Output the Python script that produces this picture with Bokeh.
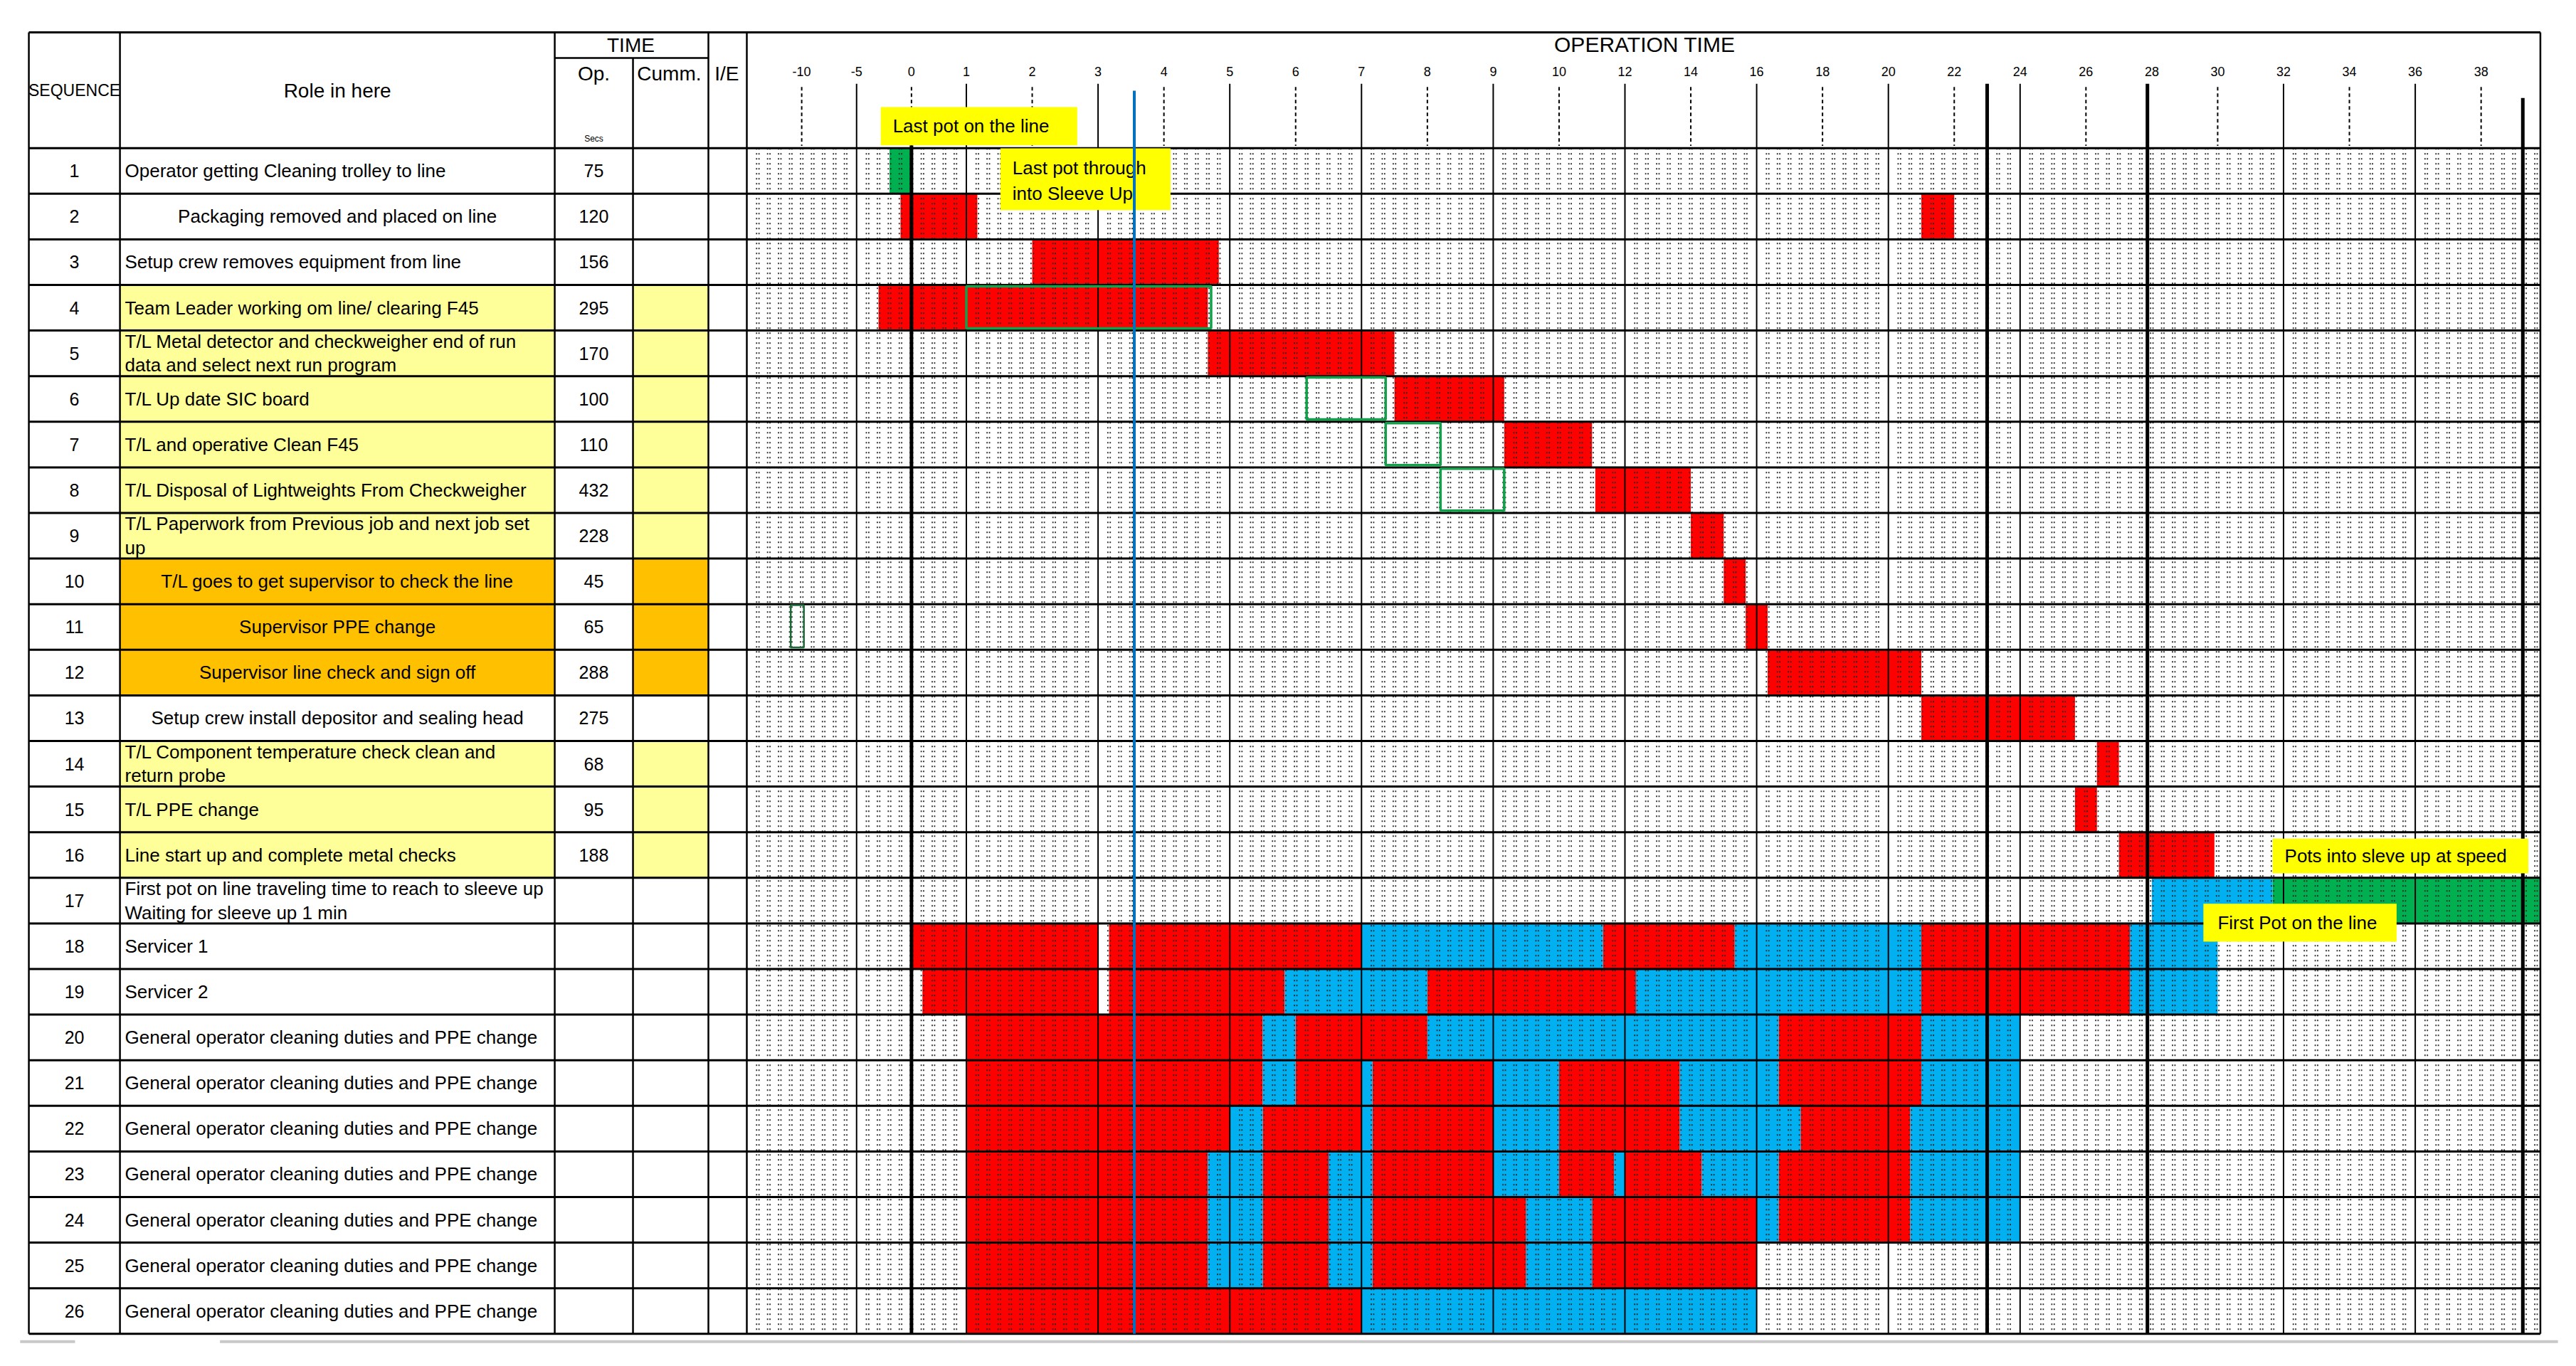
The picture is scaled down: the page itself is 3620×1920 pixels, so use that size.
from bokeh.plotting import figure
from bokeh.models import Range1d
from bokeh.core.properties import value
from bokeh.embed import file_html
from bokeh.resources import INLINE

# ---------------- data ----------------
SEQ = [str(i) for i in range(1, 27)]
ROLES = [
    "Operator getting Cleaning trolley to line",
    "Packaging removed and placed on line",
    "Setup crew removes equipment from line",
    "Team Leader working om line/ clearing F45",
    "T/L Metal detector and checkweigher end of run\ndata and select next run program",
    "T/L Up date SIC board",
    "T/L and operative Clean F45",
    "T/L Disposal of Lightweights From Checkweigher",
    "T/L Paperwork from Previous job and next job set\nup",
    "T/L goes to get supervisor to check the line",
    "Supervisor PPE change",
    "Supervisor line check and sign off",
    "Setup crew install depositor and sealing head",
    "T/L Component temperature check clean and\nreturn probe",
    "T/L PPE change",
    "Line start up and complete metal checks",
    "First pot on line traveling time to reach to sleeve up\nWaiting for sleeve up 1 min",
    "Servicer 1",
    "Servicer 2",
] + ["General operator cleaning duties and PPE change"] * 7
OP_SECS = ["75", "120", "156", "295", "170", "100", "110", "432", "228", "45", "65", "288",
           "275", "68", "95", "188"] + [""] * 10
# row owner group: TL = team leader (yellow), SUP = supervisor (orange)
ROW_GROUP = ["", "", "", "TL", "TL", "TL", "TL", "TL", "TL", "SUP", "SUP", "SUP",
             "", "TL", "TL", "TL"] + [""] * 10
CENTERED_ROWS = [2, 10, 11, 12, 13]

# operation-time axis: labels and their grid-cell positions
TICK_LABELS = ["-10", "-5", "0", "1", "2", "3", "4", "5", "6", "7", "8", "9", "10",
               "12", "14", "16", "18", "20", "22", "24", "26", "28", "30", "32", "34", "36", "38"]
TICK_CELLS = [5, 10, 15, 20, 26, 32, 38, 44, 50, 56, 62, 68, 74,
              80, 86, 92, 98, 104, 110, 116, 122, 128, 134, 140, 146, 152, 158]
MILESTONES = [15, 113, 127.6, 161.8]   # thick vertical lines (cells)
NOW_CELL = 35.3                        # blue line

# activity bars: (row, start cell, end cell)
WORK = [  # red
    (2, 14, 21), (2, 107, 110), (3, 26, 43), (4, 12, 42), (5, 42, 59), (6, 59, 69),
    (7, 69, 77), (8, 77.3, 86), (9, 86, 89), (10, 89, 91), (11, 91, 93), (12, 93, 107),
    (13, 107, 121), (14, 123, 125), (15, 121, 123), (16, 125, 133.7),
    (18, 15, 32), (18, 33, 56), (18, 78, 90), (18, 107, 126),
    (19, 16, 32), (19, 33, 49), (19, 62, 81), (19, 107, 126),
    (20, 20, 47), (20, 50, 62), (20, 94, 107),
    (21, 20, 47), (21, 50, 56), (21, 57, 68), (21, 74, 85), (21, 94, 107),
    (22, 20, 44), (22, 47, 56), (22, 57, 68), (22, 74, 85), (22, 96, 106),
    (23, 20, 42), (23, 47, 53), (23, 57, 68), (23, 74, 79), (23, 80, 87), (23, 94, 106),
    (24, 20, 42), (24, 47, 53), (24, 57, 71), (24, 77, 92), (24, 94, 106),
    (25, 20, 42), (25, 47, 53), (25, 57, 71), (25, 77, 92),
    (26, 20, 56),
]
WAIT = [  # blue
    (17, 128, 139),
    (18, 56, 78), (18, 90, 107), (18, 126, 134),
    (19, 49, 62), (19, 81, 107), (19, 126, 134),
    (20, 47, 50), (20, 62, 94), (20, 107, 116),
    (21, 47, 50), (21, 56, 57), (21, 68, 74), (21, 85, 94), (21, 107, 116),
    (22, 44, 47), (22, 56, 57), (22, 68, 74), (22, 85, 96), (22, 106, 116),
    (23, 42, 47), (23, 53, 57), (23, 68, 74), (23, 79, 80), (23, 87, 94), (23, 106, 116),
    (24, 42, 47), (24, 53, 57), (24, 71, 77), (24, 92, 94), (24, 106, 116),
    (25, 42, 47), (25, 53, 57), (25, 71, 77),
    (26, 56, 92),
]
RUN = [(1, 13, 15), (17, 139, 163.4)]  # green
PLANNED = [(4, 20, 42.3), (6, 51, 58.2), (7, 58.2, 63.2), (8, 63.2, 69)]  # green outlines

NOTES = ["Last pot on the line", "Last pot through\ninto Sleeve Up",
         "Pots into sleve up at speed", "First Pot on the line"]

# ---------------- styles / layout ----------------
FONT = value("Liberation Sans")
RED, BLUE, GREEN = "#FF0000", "#00B0F0", "#00B050"
GROUP_COLORS = {"TL": "#FFFF99", "SUP": "#FFC000"}
NROWS = len(SEQ)
TOP, BOT = -2.038, NROWS + 0.5
XL, XROLE, XOP, XCUMM, XIE, XG0, XG1 = -65.41, -57.11, -17.5, -10.37, -3.5, 0.0, 163.4

p = figure(width=3604, height=1904, x_range=Range1d(-68.006, 165.64),
           y_range=Range1d(26.963, -2.740), toolbar_location=None, output_backend="svg",
           x_axis_location=None, y_axis_location=None, min_border=0,
           outline_line_color=None, background_fill_color="white", border_fill_color="white")
p.grid.visible = False

# highlighted table cells
for i, g in enumerate(ROW_GROUP):
    if g:
        r = i + 1
        p.quad(left=[XROLE, XCUMM], right=[XOP, XIE], top=[r - 0.5] * 2, bottom=[r + 0.5] * 2,
               fill_color=GROUP_COLORS[g], line_color=None)


def bars(items, color):
    p.quad(left=[b[1] for b in items], right=[b[2] for b in items],
           top=[b[0] - 0.5 for b in items], bottom=[b[0] + 0.5 for b in items],
           fill_color=color, line_color=None)


bars(WORK, RED)
bars(WAIT, BLUE)
bars(RUN, GREEN)

# dotted cell grid (Excel-like dotted borders, drawn as close pairs)
odd_cells = [c for k, c in enumerate(TICK_CELLS) if k % 2 == 1 and c not in (128,)]
dash_cells = [c for k, c in enumerate(TICK_CELLS) if k % 2 == 0]
dot_x = []
for c in range(1, 164):
    if c in odd_cells:
        continue
    dot_x += [c - 0.11, c + 0.11]
p.segment(x0=dot_x, y0=[0.5] * len(dot_x), x1=dot_x, y1=[BOT] * len(dot_x),
          line_color="#2a2a2a", line_width=1.8, line_dash="2 5")
# solid body lines
p.segment(x0=odd_cells, y0=[0.5] * len(odd_cells), x1=odd_cells,
          y1=[BOT] * len(odd_cells), line_color="black", line_width=2)

# header tick marks
p.segment(x0=odd_cells, y0=[-0.91] * len(odd_cells), x1=odd_cells,
          y1=[0.5] * len(odd_cells), line_color="black", line_width=2)
p.segment(x0=dash_cells, y0=[-0.84] * len(dash_cells), x1=dash_cells,
          y1=[0.45] * len(dash_cells), line_color="black", line_width=2, line_dash="5 4")
p.text(x=TICK_CELLS, y=[-1.18] * len(TICK_CELLS), text=TICK_LABELS, text_font=FONT,
       text_font_size="18px", text_align="center", text_baseline="middle", text_color="black")

# row separators and table frame
ys = [r + 0.5 for r in range(0, NROWS + 1)]
p.segment(x0=[XL] * len(ys), y0=ys, x1=[XG1] * len(ys), y1=ys, line_color="black", line_width=3)
p.segment(x0=[XL], y0=[TOP], x1=[XG1], y1=[TOP], line_color="black", line_width=3)
vx = [XL, XROLE, XOP, XIE, XG0, XG1]
p.segment(x0=vx, y0=[TOP] * len(vx), x1=vx, y1=[BOT] * len(vx), line_color="black", line_width=2.5)
p.segment(x0=[XCUMM], y0=[-1.477], x1=[XCUMM], y1=[BOT], line_color="black", line_width=2.5)
p.segment(x0=[XOP], y0=[-1.477], x1=[XIE], y1=[-1.477], line_color="black", line_width=2.5)
# faint scrollbar edge under the sheet
p.segment(x0=[-66.2, -48.0], y0=[26.67, 26.67], x1=[-61.2, 165.0], y1=[26.67, 26.67],
          line_color="#C8C8C8", line_width=4)

# planned (green outline) blocks
p.quad(left=[b[1] for b in PLANNED], right=[b[2] for b in PLANNED],
       top=[b[0] - 0.47 for b in PLANNED], bottom=[b[0] + 0.45 for b in PLANNED],
       fill_color=None, line_color="#12A04A", line_width=3.5)
p.quad(left=[4.0], right=[5.2], top=[10.52], bottom=[11.45], fill_color=None,
       line_color="#1E6B3A", line_width=2.5)

# thick milestone lines
p.segment(x0=MILESTONES, y0=[0.44, -0.91, -0.91, -0.6],
          x1=MILESTONES, y1=[BOT] * 4, line_color="black", line_width=5)

# annotation boxes
p.quad(left=[12.2, 23.1, 139.0, 132.7], right=[30.1, 38.6, 162.3, 150.3],
       top=[-0.40, 0.505, 15.64, 17.07], bottom=[0.44, 1.86, 16.40, 17.90],
       fill_color="#FFFF00", line_color=None)
note_lines = NOTES[1].split("\n")
p.text(x=[13.3, 24.2, 24.2, 140.1, 134.0], y=[0.02, 0.93, 1.50, 16.02, 17.49],
       text=[NOTES[0], note_lines[0], note_lines[1], NOTES[2], NOTES[3]], text_font=FONT,
       text_font_size="26px", text_align="left", text_baseline="middle", text_color="black")

# blue "now" line
p.segment(x0=[NOW_CELL], y0=[-0.76], x1=[NOW_CELL], y1=[BOT], line_color="#0070C0", line_width=4)

# header texts
p.text(x=[-61.26], y=[-0.76], text=["SEQUENCE"], text_font=FONT, text_font_size="23px",
       text_align="center", text_baseline="middle", text_color="black")
p.text(x=[-37.3, -10.57, -13.94, -7.07, -1.82],
       y=[-0.76, -1.76, -1.13, -1.13, -1.13],
       text=["Role in here", "TIME", "Op.", "Cumm.", "I/E"], text_font=FONT,
       text_font_size="28px", text_align="center", text_baseline="middle", text_color="black")
p.text(x=[81.8], y=[-1.77], text=["OPERATION TIME"], text_font=FONT,
       text_font_size="30px", text_align="center", text_baseline="middle", text_color="black")
p.text(x=[-13.94], y=[0.30], text=["Secs"], text_font=FONT, text_font_size="12px",
       text_align="center", text_baseline="middle", text_color="black")

# table body texts
rows = list(range(1, NROWS + 1))
p.text(x=[-61.26] * NROWS, y=rows, text=SEQ, text_font=FONT, text_font_size="25px",
       text_align="center", text_baseline="middle", text_color="black")
p.text(x=[-13.94] * NROWS, y=rows, text=OP_SECS, text_font=FONT, text_font_size="25px",
       text_align="center", text_baseline="middle", text_color="black")
lx, ly, lt, cx, cy, ct = [], [], [], [], [], []
for r, role in zip(rows, ROLES):
    parts = role.split("\n")
    offs = [0.0] if len(parts) == 1 else [-0.26, 0.26]
    for part, o in zip(parts, offs):
        if r in CENTERED_ROWS:
            cx.append(-37.3); cy.append(r + o); ct.append(part)
        else:
            lx.append(-56.66); ly.append(r + o); lt.append(part)
p.text(x=lx, y=ly, text=lt, text_font=FONT, text_font_size="26px", text_align="left",
       text_baseline="middle", text_color="black")
p.text(x=cx, y=cy, text=ct, text_font=FONT, text_font_size="26px", text_align="center",
       text_baseline="middle", text_color="black")

open("out.html", "w").write(file_html(p, INLINE))
